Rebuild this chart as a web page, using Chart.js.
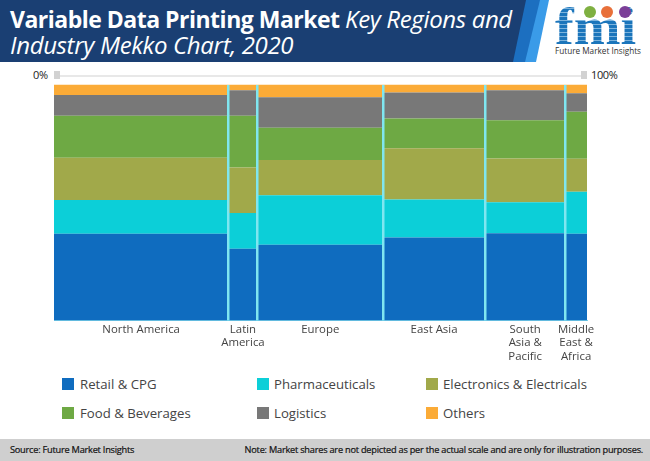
<!DOCTYPE html>
<html>
<head>
<meta charset="utf-8">
<script src="https://cdn.jsdelivr.net/npm/chart.js@4"></script>
<style>
  html, body { margin: 0; padding: 0; background: #fff; }
  #page { position: relative; width: 650px; height: 461px; overflow: hidden; font-family: "Open Sans", sans-serif; color: #333; }
  #page > * { position: absolute; }
  #chart { left: 0; top: 0; }
  #banner { left: 0; top: 0; }
  #title { left: 10px; top: 6px; color: #fff; font-size: 23px; line-height: 26px; letter-spacing: -0.5px; white-space: nowrap; }
  #title i { font-weight: 400; font-size: 24px; letter-spacing: -0.35px; }
  #fmi { left: 555px; top: 1px; font: bold 53px/50px "Liberation Serif", serif; letter-spacing: 0; transform: scaleX(1.06); transform-origin: left top;
         background: repeating-linear-gradient(#1b75bb 0 3px, #7db4dd 3px 4px); -webkit-background-clip: text; background-clip: text; color: transparent; }
  #fmiName { left: 555px; top: 45px; font-size: 8.2px; line-height: 11px; color: #333; white-space: nowrap; }
  .dot { width: 12px; height: 12px; border-radius: 50%; top: 6px; }
  #track { left: 60px; top: 75px; width: 522px; height: 2px; background: #e8e8e8; }
  .knob { top: 71px; width: 6px; height: 8px; background: #d2d2d2; }
  .end { top: 67px; font-size: 11px; line-height: 16px; color: #222; letter-spacing: -0.4px; }
  .swatch { width: 12px; height: 12px; }
  .entry { font-size: 13.2px; line-height: 18px; color: #444; white-space: nowrap; }
  #footer { left: 0; top: 439px; width: 650px; height: 22px; background: #cfcfcf; }
  .foot { top: 443px; font-size: 9.2px; line-height: 14px; color: #111; white-space: nowrap; letter-spacing: -0.22px; -webkit-text-stroke: 0.2px #111; }
</style>
</head>
<body>
<div id="page">
  <svg id="banner" width="650" height="64">
    <polygon points="0,0 549,0 536,62 0,62" fill="#3a9be8"/>
    <polygon points="0,0 540,0 525,62 0,62" fill="#1c6fc0"/>
    <polygon points="0,0 526,0 513,62 0,62" fill="#1a3f73"/>
  </svg>
  <div id="title"><b>Variable Data Printing Market</b> <i>Key Regions and</i><br><i>Industry Mekko Chart, 2020</i></div>
  <div id="fmi">fmi</div>
  <div class="dot" style="left:584px;background:#7fb041"></div>
  <div class="dot" style="left:601px;background:#e8703a"></div>
  <div class="dot" style="left:619px;background:#7b3f98"></div>
  <div id="fmiName">Future Market Insights</div>

  <div id="track"></div>
  <div class="knob" style="left:54px"></div>
  <div class="knob" style="left:581px"></div>
  <div class="end" style="left:33px">0%</div>
  <div class="end" style="left:591px">100%</div>

  <canvas id="chart" width="650" height="375"></canvas>
  <div id="legend"></div>

  <div id="footer"></div>
  <div class="foot" style="left:10px">Source: Future Market Insights</div>
  <div class="foot" style="right:7px">Note: Market shares are not depicted as per the actual scale and are only for illustration purposes.</div>
</div>

<script>
// --- data ---
const regions = [
  ['North America'],
  ['Latin', 'America'],
  ['Europe'],
  ['East Asia'],
  ['South', 'Asia &', 'Pacific'],
  ['Middle', 'East &', 'Africa']
];
const regionShares = [32.7, 5.5, 23.5, 19.2, 15, 4.1];

const seriesNames = ['Retail & CPG', 'Pharmaceuticals', 'Electronics & Electricals', 'Food & Beverages', 'Logistics', 'Others'];
const seriesColors = ['#0f6cbf', '#0ccfd8', '#a1a94a', '#6ea944', '#787878', '#fbab37'];

const retail = [36.8, 30.4, 32.1, 35.2, 37, 36.8];
const pharma = [14.3, 15.1, 21, 16.1, 13.1, 17.8];
const electronics = [17.9, 19.3, 14.9, 21.7, 18.5, 13.9];
const food = [17.8, 22, 13.7, 12.6, 16.3, 20];
const logistics = [8.7, 10.8, 12.9, 11, 12.7, 7.8];
const others = [4.5, 2.4, 5.4, 3.4, 2.4, 3.7];
const seriesValues = [retail, pharma, electronics, food, logistics, others];

// column edges and centres on the 0-100 width axis
const edges = [0];
regionShares.forEach(s => edges.push(edges[edges.length - 1] + s));
const centres = regionShares.map((s, i) => edges[i] + s / 2);

// --- bars with a width per category ---
class MekkoController extends Chart.BarController {
  _calculateBarIndexPixels(index) {
    const left = this._cachedMeta.iScale.getPixelForValue(edges[index]);
    const right = this._cachedMeta.iScale.getPixelForValue(edges[index + 1]);
    return { base: left, head: right, center: (left + right) / 2, size: right - left };
  }
}
MekkoController.id = 'mekko';
MekkoController.defaults = Chart.BarController.defaults;
MekkoController.overrides = Chart.BarController.overrides;
Chart.register(MekkoController);

new Chart(document.getElementById('chart'), {
  type: 'mekko',
  data: {
    datasets: seriesNames.map((name, s) => ({
      label: name,
      backgroundColor: seriesColors[s],
      data: seriesValues[s].map((v, i) => ({ x: centres[i], y: v }))
    }))
  },
  options: {
    responsive: false,
    animation: false,
    layout: { padding: { left: 54, right: 63, top: 84.5, bottom: 0 } },
    plugins: { legend: { display: false }, tooltip: { enabled: false } },
    scales: {
      x: {
        type: 'linear',
        min: 0,
        max: 100,
        offset: false,
        position: 'bottom',
        grid: { display: false, drawTicks: false, offset: false },
        border: { display: true, color: '#7fd4ea', width: 1 },
        afterBuildTicks: axis => { axis.ticks = centres.map(v => ({ value: v })); },
        afterFit: axis => { axis.height = 54.5; },
        ticks: {
          autoSkip: false,
          maxRotation: 0,
          padding: 2,
          color: '#444',
          font: { family: 'Open Sans', size: 11.4, lineHeight: 1.2 },
          callback: (value, i) => regions[i]
        }
      },
      // separators between the columns
      x2: {
        type: 'linear',
        min: 0,
        max: 100,
        offset: false,
        position: 'top',
        border: { display: false },
        grid: { color: '#7fe6f0', lineWidth: 2.5, z: 1, drawTicks: false, offset: false },
        afterBuildTicks: axis => { axis.ticks = edges.slice(1, -1).map(v => ({ value: v })); },
        ticks: { display: false }
      },
      y: { display: false, stacked: true, min: 0, max: 100 }
    }
  }
});

// --- legend ---
const legendX = [[62, 80], [257, 274], [426, 443]];
const legendY = [378, 407];
const legend = document.getElementById('legend');
legend.style.cssText = 'left:0;top:0';
seriesNames.forEach((name, s) => {
  const [boxX, textX] = legendX[s % 3];
  const y = legendY[Math.floor(s / 3)];
  legend.innerHTML += `<div class="swatch" style="position:absolute;left:${boxX}px;top:${y}px;background:${seriesColors[s]}"></div>
    <div class="entry" style="position:absolute;left:${textX}px;top:${y - 3}px">${name.replace('&', '&amp;')}</div>`;
});
</script>
</body>
</html>
